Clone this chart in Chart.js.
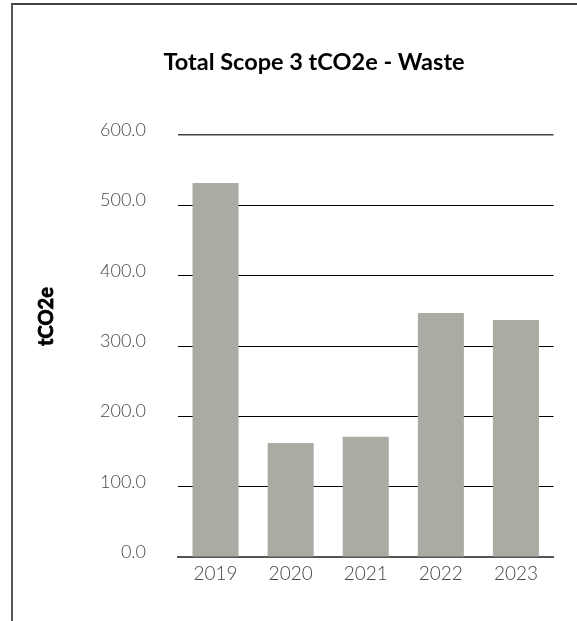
<!DOCTYPE html>
<html>
<head>
<meta charset="utf-8">
<script src="https://cdn.jsdelivr.net/npm/chart.js@4"></script>
<style>
  html, body { margin: 0; padding: 0; background: #fff; }
  #wrap { position: relative; width: 577px; height: 621px; overflow: hidden; }
  #frame {
    position: absolute; left: 11px; top: 3px; width: 600px; height: 616px;
    border-left: 2px solid #555; border-top: 2px solid #444; border-bottom: 1px solid #aaa;
    pointer-events: none;
  }
</style>
</head>
<body>
<div id="wrap">
  <canvas id="wasteChart" width="577" height="621"></canvas>
  <div id="frame"></div>
</div>
<script>
// Total Scope 3 tCO2e - Waste, one grey bar per year
const years = ['2019', '2020', '2021', '2022', '2023'];
const wasteTco2e = [532, 162, 171, 347, 337];
const yTicks = [0, 100, 200, 300, 400, 500, 600];

const BAR_GREY = '#ababa3';
const TEXT_GREY = '#474747';

// rotated axis title, drawn a little above the middle of the plot like the original
const yTitlePlugin = {
    id: 'yTitle',
    afterDraw: function (chart) {
        const ctx = chart.ctx;
        const area = chart.chartArea;
        ctx.save();
        ctx.translate(47, area.top + (area.bottom - area.top) * 0.43);
        ctx.rotate(-Math.PI / 2);
        ctx.font = 'bold 20px Lato';
        ctx.fillStyle = '#000';
        ctx.strokeStyle = '#000';
        ctx.lineWidth = 0.8;
        ctx.textAlign = 'center';
        ctx.textBaseline = 'middle';
        ctx.fillText('tCO2e', 0, 0);
        ctx.strokeText('tCO2e', 0, 0);
        ctx.restore();
    },
};

new Chart(document.getElementById('wasteChart'), {
    type: 'bar',
    data: {
        labels: years,
        datasets: [{
            label: 'tCO2e',
            data: wasteTco2e,
            backgroundColor: BAR_GREY,
            barPercentage: 0.613,
            categoryPercentage: 1,
        }],
    },
    options: {
        responsive: false,
        animation: false,
        devicePixelRatio: 1,
        layout: { padding: { left: 74.5, right: 23.5, top: 0, bottom: 0 } },
        plugins: {
            legend: { display: false },
            tooltip: { enabled: false },
            title: {
                display: true,
                text: 'Total Scope 3 tCO2e - Waste',
                color: '#000',
                font: { family: 'Lato', size: 23.5, weight: 'bold', lineHeight: 1.2 },
                padding: { top: 48, bottom: 59 },
            },
        },
        scales: {
            x: {
                grid: { display: false, drawTicks: false },
                border: { display: true, color: '#555', width: 2 },
                ticks: {
                    color: TEXT_GREY,
                    padding: 5,
                    font: { family: 'Lato', size: 19, weight: '300' },
                },
                afterFit: function (scale) { scale.height = 64; },
            },
            y: {
                min: 0,
                max: 600,
                afterBuildTicks: function (scale) {
                    scale.ticks = yTicks.map(function (v) { return { value: v }; });
                },
                grid: {
                    drawTicks: false,
                    color: function (c) {
                        if (c.tick.value === 0) return 'rgba(0,0,0,0)';
                        return c.tick.value === 600 ? '#444' : '#000';
                    },
                    lineWidth: function (c) { return c.tick.value === 600 ? 1.5 : 1; },
                },
                border: { display: false },
                ticks: {
                    color: TEXT_GREY,
                    padding: 32,
                    labelOffset: -5,
                    font: { family: 'Lato', size: 18, weight: '300' },
                    callback: function (v) { return Number(v).toFixed(1); },
                },
                afterFit: function (scale) { scale.width = 178 - 74.5; },
            },
        },
    },
    plugins: [yTitlePlugin],
});
</script>
</body>
</html>
